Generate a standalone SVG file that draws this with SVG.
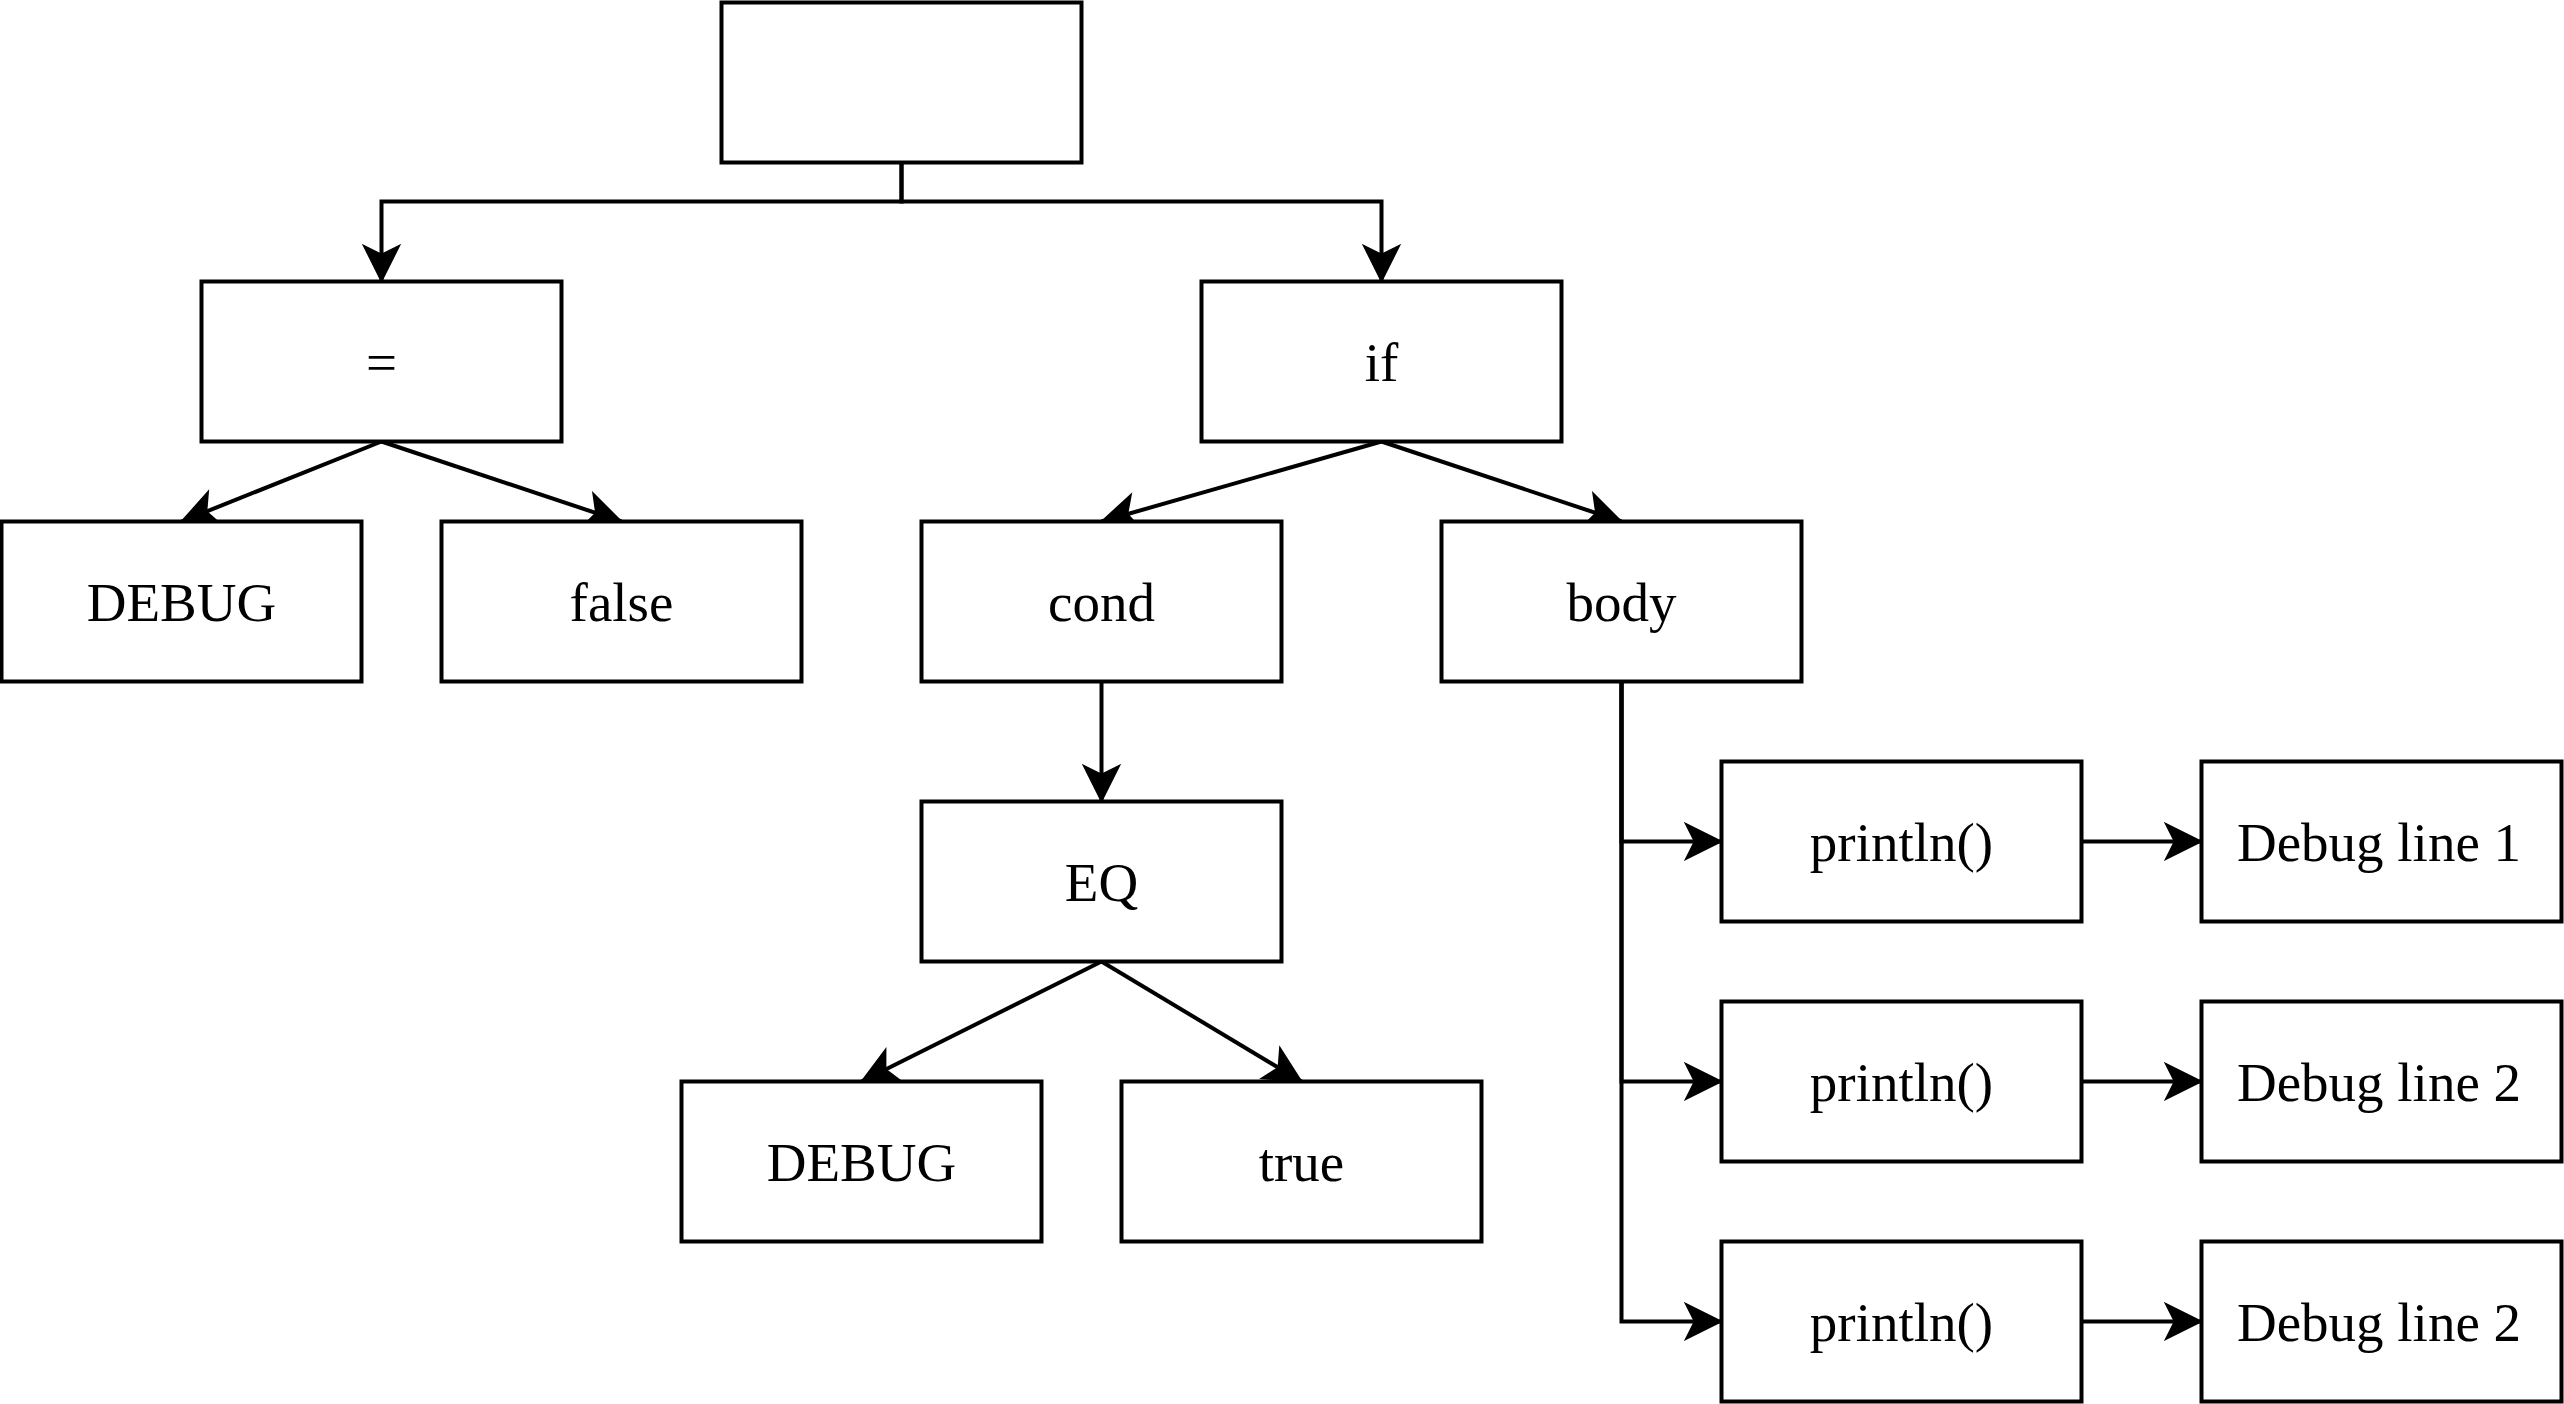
<svg xmlns="http://www.w3.org/2000/svg" width="2564" height="1404" viewBox="0 0 2564 1404">
<style>
.box{fill:#ffffff;stroke:#000000;stroke-width:4}
.lbl{font-family:"Liberation Serif","Times New Roman",serif;font-size:55px;fill:#000000;text-anchor:middle}
.edge{fill:none;stroke:#000000;stroke-width:4}
</style>
<defs>
<marker id="arr" markerUnits="userSpaceOnUse" viewBox="-2 -2 40 40" markerWidth="40" markerHeight="40" refX="36" refY="18" orient="auto">
<path d="M36,18 L0,0 L9,18 L0,36 Z" fill="#000000" stroke="#000000" stroke-width="1.5" stroke-linejoin="miter"/>
</marker>
</defs>
<rect width="2564" height="1404" fill="#ffffff"/>
<g id="connectors">
<path class="edge" d="M901.5,162.5 V201.5 H381.5 V281.5" marker-end="url(#arr)"/>
<path class="edge" d="M901.5,162.5 V201.5 H1381.5 V281.5" marker-end="url(#arr)"/>
<path class="edge" d="M381.5,441.5 L181.5,521.5" marker-end="url(#arr)"/>
<path class="edge" d="M381.5,441.5 L621.5,521.5" marker-end="url(#arr)"/>
<path class="edge" d="M1381.5,441.5 L1101.5,521.5" marker-end="url(#arr)"/>
<path class="edge" d="M1381.5,441.5 L1621.5,521.5" marker-end="url(#arr)"/>
<path class="edge" d="M1101.5,681.5 V801.5" marker-end="url(#arr)"/>
<path class="edge" d="M1101.5,961.5 L861.5,1081.5" marker-end="url(#arr)"/>
<path class="edge" d="M1101.5,961.5 L1301.5,1081.5" marker-end="url(#arr)"/>
<path class="edge" d="M1621.5,681.5 V841.5 H1721.5" marker-end="url(#arr)"/>
<path class="edge" d="M1621.5,681.5 V1081.5 H1721.5" marker-end="url(#arr)"/>
<path class="edge" d="M1621.5,681.5 V1321.5 H1721.5" marker-end="url(#arr)"/>
<path class="edge" d="M2081.5,841.5 H2201.5" marker-end="url(#arr)"/>
<path class="edge" d="M2081.5,1081.5 H2201.5" marker-end="url(#arr)"/>
<path class="edge" d="M2081.5,1321.5 H2201.5" marker-end="url(#arr)"/>
</g>
<g id="root"><rect class="box" x="721.5" y="2.5" width="360" height="160"/></g>
<g id="assign"><rect class="box" x="201.5" y="281.5" width="360" height="160"/><text class="lbl" x="381.5" y="380.5">=</text></g>
<g id="if"><rect class="box" x="1201.5" y="281.5" width="360" height="160"/><text class="lbl" x="1381.5" y="380.5">if</text></g>
<g id="debug1"><rect class="box" x="1.5" y="521.5" width="360" height="160"/><text class="lbl" x="181.5" y="620.5">DEBUG</text></g>
<g id="false"><rect class="box" x="441.5" y="521.5" width="360" height="160"/><text class="lbl" x="621.5" y="620.5">false</text></g>
<g id="cond"><rect class="box" x="921.5" y="521.5" width="360" height="160"/><text class="lbl" x="1101.5" y="620.5">cond</text></g>
<g id="body"><rect class="box" x="1441.5" y="521.5" width="360" height="160"/><text class="lbl" x="1621.5" y="620.5">body</text></g>
<g id="eq"><rect class="box" x="921.5" y="801.5" width="360" height="160"/><text class="lbl" x="1101.5" y="900.5">EQ</text></g>
<g id="debug2"><rect class="box" x="681.5" y="1081.5" width="360" height="160"/><text class="lbl" x="861.5" y="1180.5">DEBUG</text></g>
<g id="true"><rect class="box" x="1121.5" y="1081.5" width="360" height="160"/><text class="lbl" x="1301.5" y="1180.5">true</text></g>
<g id="println1"><rect class="box" x="1721.5" y="761.5" width="360" height="160"/><text class="lbl" x="1901.5" y="860.5">println()</text></g>
<g id="println2"><rect class="box" x="1721.5" y="1001.5" width="360" height="160"/><text class="lbl" x="1901.5" y="1100.5">println()</text></g>
<g id="println3"><rect class="box" x="1721.5" y="1241.5" width="360" height="160"/><text class="lbl" x="1901.5" y="1340.5">println()</text></g>
<g id="line1"><rect class="box" x="2201.5" y="761.5" width="360" height="160"/><text class="lbl" x="2379" y="860.5">Debug line 1</text></g>
<g id="line2"><rect class="box" x="2201.5" y="1001.5" width="360" height="160"/><text class="lbl" x="2379" y="1100.5">Debug line 2</text></g>
<g id="line3"><rect class="box" x="2201.5" y="1241.5" width="360" height="160"/><text class="lbl" x="2379" y="1340.5">Debug line 2</text></g>
</svg>
